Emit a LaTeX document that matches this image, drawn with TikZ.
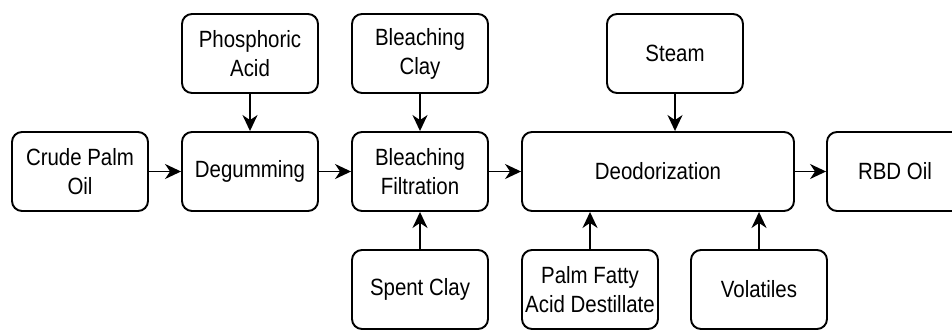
\documentclass[tikz,border=0pt]{standalone}
\usepackage{fontspec}
\setmainfont{Liberation Sans}[FakeStretch=0.87]
\usetikzlibrary{arrows.meta}
\begin{document}
\begin{tikzpicture}[x=1pt,y=-1pt,
  procbox/.style={draw=black, line width=1.9pt, rounded corners=10pt,
    minimum width=136pt, minimum height=79pt, inner sep=0pt, align=center,
    font=\fontsize{23.5}{29}\selectfont},
  flow/.style={line width=1.9pt,
    -{Stealth[length=16pt,width=15pt,inset=5pt]}}]
\useasboundingbox (0,0) rectangle (952,329);
% main process line
\node[procbox] (cpo)   at (80,171.5)  {Crude Palm\\Oil};
\node[procbox] (deg)   at (250,171.5) {Degumming};
\node[procbox] (bf)    at (420,171.5) {Bleaching\\Filtration};
\node[procbox, minimum width=272pt] (deo) at (658,171.5) {Deodorization};
\node[procbox] (rbd)   at (895,171.5) {RBD Oil};
% inputs from above
\node[procbox] (phos)  at (250,53.5)  {Phosphoric\\Acid};
\node[procbox] (bclay) at (420,53.5)  {Bleaching\\Clay};
\node[procbox] (steam) at (675,53.5)  {Steam};
% streams below
\node[procbox] (spent) at (420,289.5) {Spent Clay};
\node[procbox] (pfad)  at (590,289.5) {Palm Fatty\\Acid Destillate};
\node[procbox] (vol)   at (759,289.5) {Volatiles};
% connectors
\draw[flow] (cpo) -- (deg);
\draw[flow] (deg) -- (bf);
\draw[flow] (bf) -- (bf -| deo.west);
\draw[flow] (deo) -- (rbd);
\draw[flow] (phos) -- (deg);
\draw[flow] (bclay) -- (bf);
\draw[flow] (steam) -- (steam |- deo.north);
\draw[flow] (spent) -- (bf);
\draw[flow] (pfad) -- (pfad |- deo.south);
\draw[flow] (vol) -- (vol |- deo.south);
\end{tikzpicture}
\end{document}
